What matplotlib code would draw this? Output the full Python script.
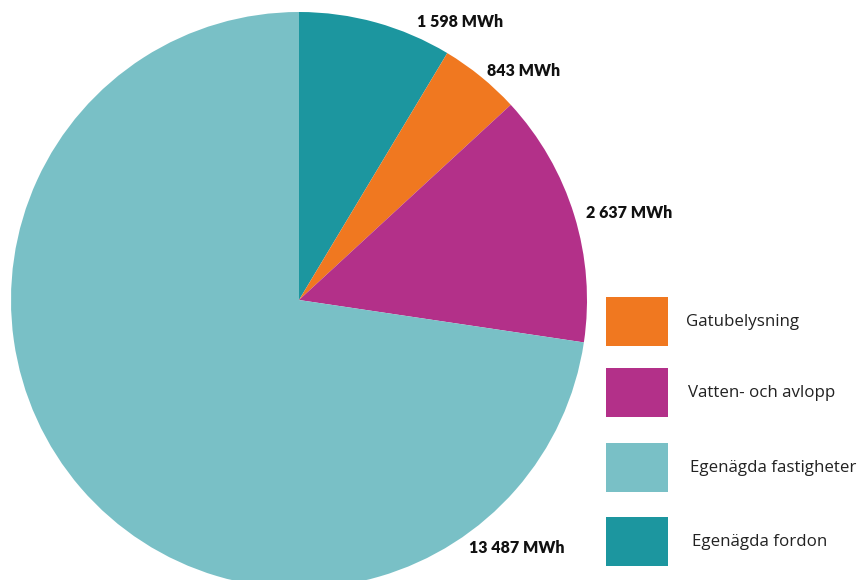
import matplotlib
matplotlib.use('Agg')
import matplotlib.pyplot as plt
from matplotlib.patches import Rectangle

# Energy use per category (MWh), clockwise from the top
categories = ["Egenägda fordon", "Gatubelysning", "Vatten- och avlopp", "Egenägda fastigheter"]
values = [1598, 843, 2637, 13487]
value_labels = ["1 598 MWh", "843 MWh", "2 637 MWh", "13 487 MWh"]
colors = ["#1C969F", "#F07820", "#B33089", "#79C0C6"]

# legend order, top to bottom
legend_order = ["Gatubelysning", "Vatten- och avlopp", "Egenägda fastigheter", "Egenägda fordon"]

W, H = 862, 580
fig = plt.figure(figsize=(W / 100, H / 100), dpi=100)

# pie axes: center at (299, 300) px, radius 288 px (bottom gets clipped by the figure edge)
cx, cy, r = 299, 300, 288
ax = fig.add_axes([(cx - r) / W, (H - cy - r) / H, 2 * r / W, 2 * r / H])
ax.pie(values, colors=colors, startangle=90, counterclock=False,
       wedgeprops=dict(linewidth=0))
ax.set_xlim(-1, 1)
ax.set_ylim(-1, 1)
ax.set_aspect('equal')
ax.axis('off')

# value labels, placed in pixel positions around the pie
label_px = [(460, 22), (524, 71), (629, 213), (517, 548)]
for (px, py), txt in zip(label_px, value_labels):
    fig.text(px / W, 1 - py / H, txt, ha='center', va='center',
             fontsize=11.5, fontweight='heavy', family='Lato', color='#111111')

# legend drawn by hand: colour boxes and labels
box_top = [297, 368, 443, 517]
text_x = [686, 688, 690, 692]
for name, top, tx in zip(legend_order, box_top, text_x):
    col = colors[categories.index(name)]
    fig.add_artist(Rectangle((606 / W, 1 - (top + 49) / H), 62 / W, 49 / H,
                             transform=fig.transFigure, facecolor=col, edgecolor='none'))
    fig.text(tx / W, 1 - (top + 25) / H, name, ha='left', va='center',
             fontsize=12.2, family='Open Sans', color='#222222')

fig.savefig("out.png", dpi=100, facecolor='white')
